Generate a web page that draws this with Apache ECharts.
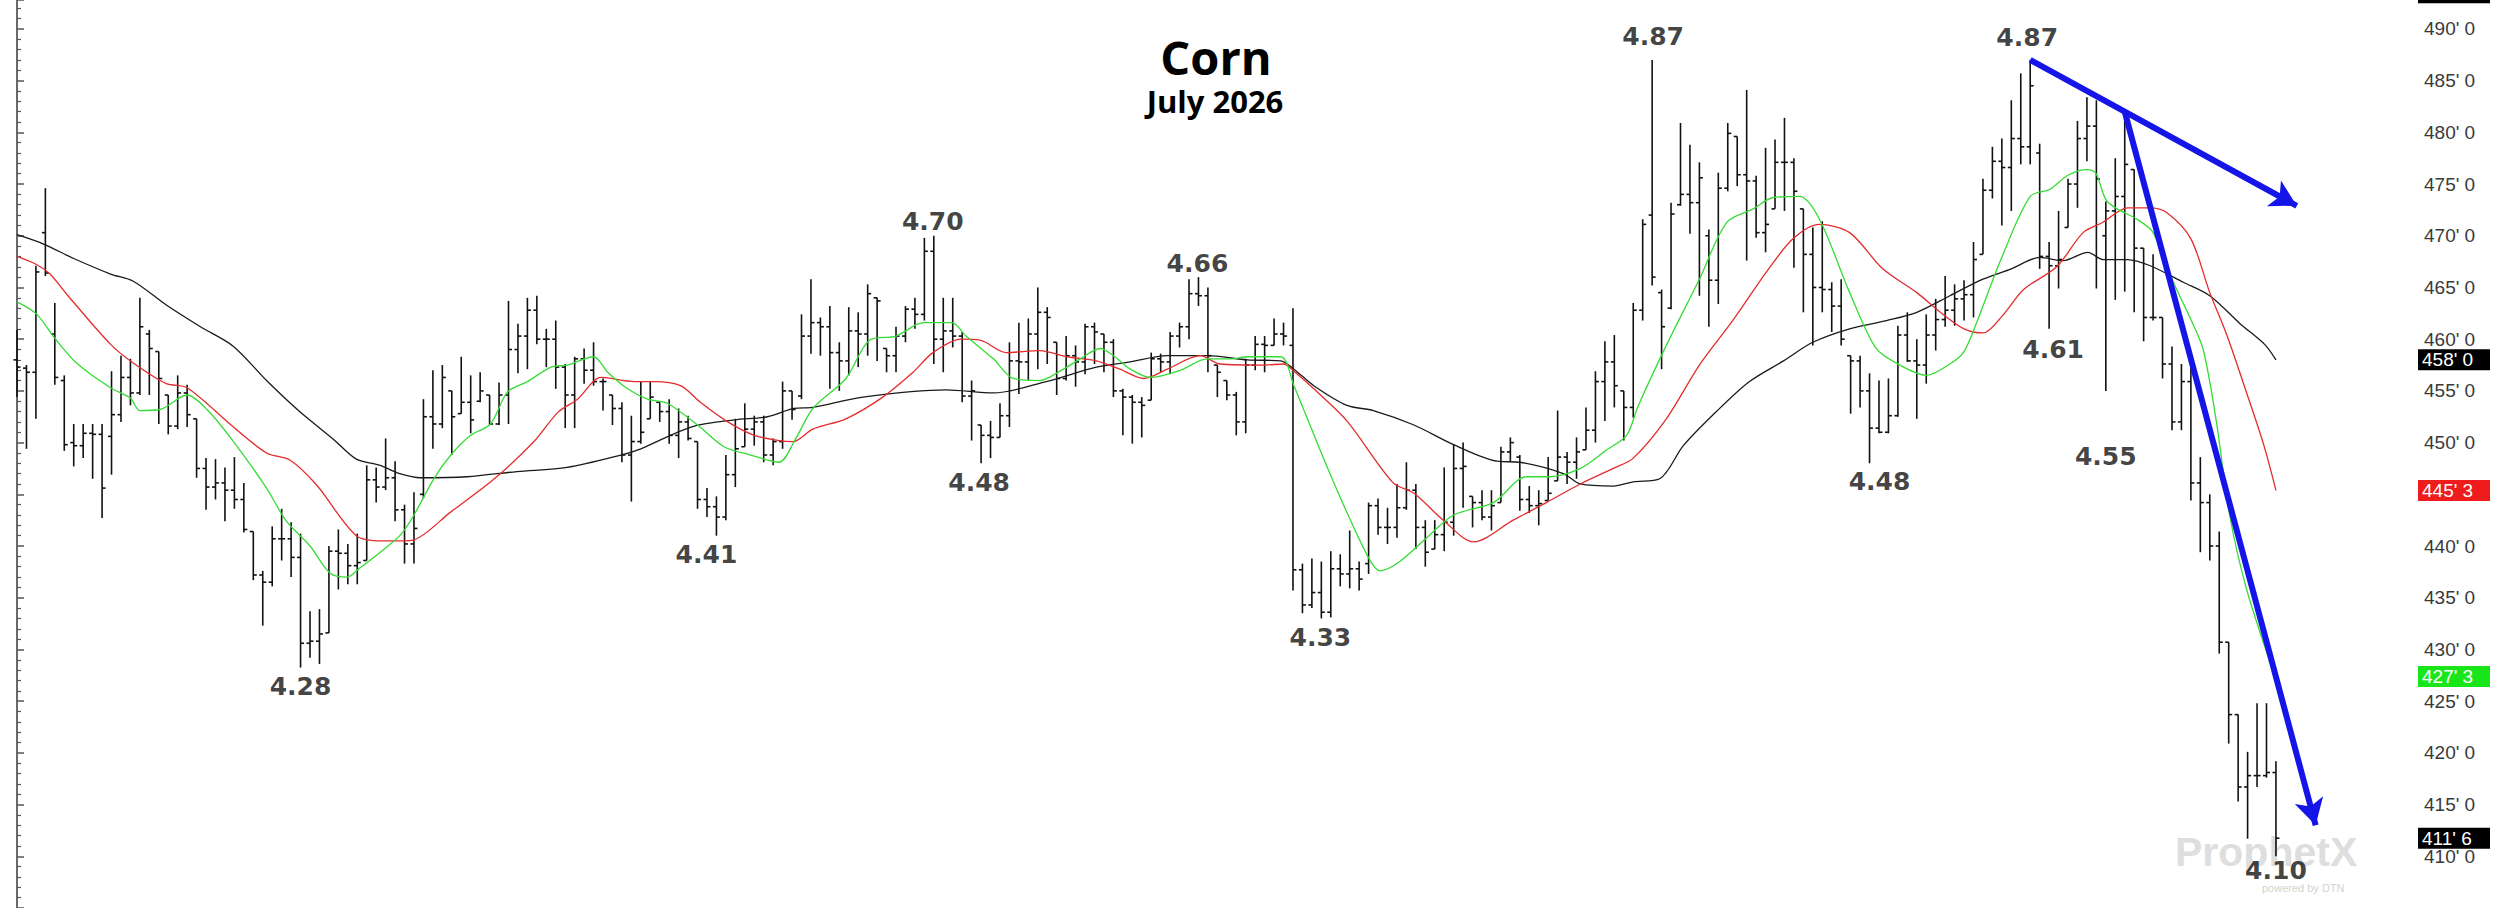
<!DOCTYPE html>
<html><head><meta charset="utf-8">
<script src="https://cdn.jsdelivr.net/npm/echarts@6/dist/echarts.min.js"></script>
<style>html,body{margin:0;padding:0;background:#fff}#c{width:2509px;height:908px}</style>
</head><body><div id="c"></div>
<script>
// Daily OHLC (cents per bushel), bar index 0..239
const opens = [
458.0,457.2,456.8,470.3,460.5,456.0,450.0,449.7,450.9,450.8,
450.6,452.7,456.3,454.8,460.5,458.8,454.6,451.6,454.8,452.3,
447.5,445.7,446.1,445.4,444.5,441.4,437.2,436.5,440.7,440.7,
438.9,430.6,430.8,431.6,439.5,439.3,438.1,438.6,446.4,445.7,
446.6,443.5,440.2,445.0,452.5,451.8,455.0,452.8,453.9,454.0,
454.6,451.8,454.6,459.0,460.3,462.8,460.0,460.0,457.3,454.6,
458.1,457.0,455.9,454.6,453.3,448.8,450.1,452.3,453.9,453.0,
450.7,452.0,450.1,444.5,443.8,442.8,446.9,449.6,451.3,452.0,
448.8,450.1,455.0,454.5,460.3,461.6,461.2,458.7,457.9,460.8,
460.5,464.0,459.1,458.4,460.3,462.9,462.4,468.5,460.0,460.8,
460.3,454.5,451.7,450.7,450.5,452.6,457.9,457.8,460.5,462.6,
459.7,456.2,458.4,457.8,461.2,460.5,459.7,455.0,454.4,453.9,
454.1,458.1,457.8,460.3,461.2,464.4,464.2,457.5,456.0,454.6,
452.0,457.5,459.5,459.4,460.5,459.4,437.7,434.3,435.5,433.6,
437.8,437.3,437.8,438.3,443.9,441.8,441.8,443.7,445.4,441.8,
439.7,441.1,442.3,447.5,444.8,444.2,442.8,444.2,449.1,448.6,
444.5,443.9,444.4,446.3,448.6,448.1,449.3,451.2,455.9,457.8,
455.0,453.4,462.8,472.0,464.5,463.0,473.0,474.0,473.2,470.0,
465.7,474.6,479.6,475.9,475.3,470.3,472.6,477.1,477.1,472.6,
468.2,465.0,464.8,463.2,458.4,457.9,455.0,451.4,451.0,452.6,
460.4,457.9,457.5,460.4,461.9,462.8,463.9,464.3,468.2,474.4,
477.2,476.6,479.4,478.6,478.0,468.0,467.1,470.8,475.0,479.4,
480.6,470.0,472.4,473.8,476.4,468.8,462.1,462.1,457.6,452.0,
455.9,446.1,444.2,440.0,430.7,423.7,416.7,417.8,417.8,418.1];
const highs = [
460.9,457.5,467.1,474.6,463.5,456.5,451.8,451.8,451.8,451.8,
456.9,458.4,458.1,464.0,460.9,458.8,454.6,456.5,455.6,452.3,
448.5,448.4,447.6,448.6,446.1,441.4,437.6,441.9,443.6,442.3,
441.2,433.7,433.9,440.0,441.6,440.2,441.2,447.8,447.6,450.4,
448.2,444.0,445.2,454.2,457.0,457.5,455.0,458.3,456.5,456.8,
454.6,455.8,463.7,461.5,464.0,464.2,461.0,461.8,457.6,458.3,
459.1,459.7,456.2,454.6,453.9,452.6,455.9,455.9,453.9,454.2,
453.3,452.6,450.1,445.6,444.8,448.8,452.3,453.8,452.6,452.6,
450.4,455.9,455.0,462.4,465.8,462.1,463.2,459.7,463.1,462.6,
465.3,464.0,459.1,461.2,463.2,464.0,469.8,470.0,464.0,464.0,
460.7,456.0,451.7,452.1,453.8,459.7,461.6,462.0,465.0,463.1,
459.7,460.3,459.4,461.5,461.6,460.5,460.0,455.2,454.6,454.4,
458.7,458.6,460.7,461.6,465.8,466.0,465.0,457.5,456.0,454.9,
458.1,460.3,460.3,462.0,461.6,463.0,438.3,438.8,438.5,439.5,
439.2,441.5,438.5,444.2,444.6,443.7,446.0,448.1,446.0,442.5,
442.5,447.6,449.8,450.0,444.8,445.4,445.4,449.6,450.5,448.8,
445.8,445.4,448.6,453.1,449.1,450.5,453.4,456.9,459.8,460.4,
455.0,463.5,471.6,487.0,464.8,473.2,480.9,478.8,477.1,470.6,
476.1,480.9,479.6,484.1,475.8,478.5,479.3,481.4,477.5,472.6,
470.8,471.4,465.5,465.8,458.4,458.4,456.7,456.0,456.2,461.3,
462.6,460.0,462.4,463.9,466.1,465.3,465.7,469.4,475.5,478.6,
479.4,483.1,485.7,487.0,478.9,469.4,472.4,475.5,481.1,483.4,
483.1,473.3,477.5,481.4,476.4,468.8,468.2,462.1,459.3,457.6,
457.6,448.6,445.0,441.4,430.7,423.7,420.1,424.8,424.8,419.2];
const lows = [
454.4,449.4,452.3,466.1,455.6,449.2,447.7,448.5,446.5,442.7,
446.9,452.0,453.6,454.6,454.6,451.8,450.8,451.3,451.5,446.6,
443.5,444.5,442.4,443.6,441.3,436.7,432.3,436.1,438.6,437.0,
428.25,429.2,428.6,431.6,435.8,436.3,436.3,438.6,444.2,445.4,
442.4,438.3,438.3,444.6,449.4,451.4,448.8,452.8,450.9,453.9,
451.7,451.7,451.8,456.7,457.1,459.5,457.3,455.2,451.4,451.4,
455.7,455.5,453.1,451.7,448.1,444.3,449.9,452.3,452.0,449.9,
448.5,450.2,443.6,442.8,441.0,442.5,445.7,449.6,449.7,448.1,
447.8,449.4,452.2,454.2,458.6,458.4,455.2,455.0,456.5,457.3,
458.4,457.9,456.8,456.8,459.7,461.0,461.8,457.6,456.8,459.2,
453.9,450.2,448.0,448.5,450.5,451.5,454.7,456.0,457.1,457.6,
454.6,456.0,455.4,456.6,457.6,456.8,454.4,450.7,449.9,450.5,
454.1,456.8,456.6,459.2,460.0,463.2,456.8,454.4,454.1,450.7,
450.9,457.0,456.8,459.4,459.4,435.7,433.5,434.0,433.0,433.1,
436.1,435.9,435.7,437.3,441.1,440.2,440.8,443.5,439.7,438.0,
439.7,439.5,441.0,443.7,441.8,442.5,441.5,444.2,448.2,443.4,
443.2,442.0,444.4,446.3,446.0,446.5,449.3,450.0,452.1,453.4,
450.2,452.4,461.8,465.2,457.1,462.9,472.9,470.2,464.2,461.2,
463.4,474.3,474.8,467.6,469.8,468.4,472.6,472.4,466.9,462.6,
459.4,462.6,460.7,459.4,452.8,453.4,448.0,450.9,450.9,452.5,
457.8,452.3,455.7,458.9,461.2,461.3,461.8,462.1,468.2,473.6,
471.0,472.4,476.9,476.9,466.8,461.0,464.9,470.8,472.7,477.2,
464.9,455.0,463.8,464.6,462.6,459.8,461.8,456.2,451.2,451.2,
444.4,439.4,438.6,429.6,420.9,415.3,411.7,416.7,417.6,410.0];
const closes = [
457.3,456.8,466.5,466.4,456.3,449.8,449.7,450.9,450.8,445.6,
452.7,456.3,454.8,461.2,459.1,456.2,451.6,454.8,452.7,447.5,
445.7,446.1,445.4,444.5,441.6,437.2,436.5,440.7,440.7,438.9,
430.6,430.8,431.5,439.5,439.3,438.1,438.4,446.4,445.7,446.6,
443.5,440.2,441.7,452.5,451.8,456.3,452.5,453.9,452.2,455.0,
451.8,454.6,459.0,460.3,462.8,460.0,460.0,457.3,454.6,458.1,
457.0,455.9,455.9,453.3,448.8,450.1,451.0,454.4,453.0,450.7,
452.0,450.4,444.5,443.8,442.8,446.9,449.4,451.3,452.0,448.8,
450.1,455.0,453.2,460.3,461.6,461.2,458.7,457.9,460.8,460.5,
464.4,463.7,458.4,460.3,462.9,462.4,468.5,460.0,460.8,460.3,
454.5,455.0,450.7,450.5,452.6,457.9,457.8,460.5,462.6,462.1,
456.2,458.4,457.8,461.2,460.7,459.7,455.0,454.4,453.9,453.6,
458.1,457.8,460.3,461.2,464.4,464.2,458.4,456.8,454.6,452.0,
457.5,459.5,459.4,460.5,460.3,437.7,434.3,435.5,433.6,437.8,
437.3,437.8,436.8,443.9,441.8,441.8,443.7,445.4,441.8,439.4,
441.1,442.3,447.5,447.7,444.2,442.8,443.9,449.1,450.0,444.5,
443.9,444.1,445.1,448.6,448.1,449.1,451.2,455.9,457.8,455.5,
453.4,462.8,471.1,466.0,461.2,472.1,474.0,473.2,475.6,465.7,
474.6,479.9,475.9,475.3,470.3,471.1,477.1,477.1,474.3,468.2,
465.0,464.8,463.2,460.0,457.9,455.0,451.4,451.0,452.6,460.4,
457.9,457.5,460.4,461.9,462.8,463.9,464.3,467.7,474.4,477.2,
476.6,479.4,478.6,484.5,468.0,467.1,467.7,475.0,479.4,480.6,
475.5,472.4,473.8,476.9,468.8,462.1,462.1,457.6,452.0,455.9,
446.1,444.2,440.0,430.7,423.7,416.7,417.8,417.8,418.1,411.75];

// Moving averages: [bar index, value]
const maShort = [[0,463.6],[2.1,462.4],[3.9,460.2],[6.3,457.7],[9.9,455.3],[12,454.3],[13,453.1],[15.1,453.2],[18,454.6],[20.1,453.2],[22.9,450.1],[26.4,445.6],[28.5,442.4],[31,440.0],[33.1,437.4],[34.9,437.0],[36.3,437.9],[38.7,439.6],[40.6,441.1],[42,443.0],[44.1,446.5],[45.9,448.8],[48,450.7],[50.1,451.8],[51.9,454.9],[54,455.9],[56.5,457.3],[58.2,457.5],[61,458.3],[62.5,456.8],[64.6,455.2],[66.7,454.2],[68.8,453.8],[72,451.7],[74.8,449.6],[77.6,448.8],[80.6,448.1],[82.4,450.4],[84.2,453.3],[87.7,456.2],[90.2,459.9],[93,460.3],[95.9,461.6],[98.9,461.6],[100.4,460.3],[103.3,458.1],[105.4,456.2],[108.2,456.0],[110.7,457.1],[112.5,458.1],[114.6,459.1],[116,458.4],[117.8,457.1],[119.9,456.3],[123.1,457.0],[125.9,458.1],[128.4,458.1],[130.2,458.3],[133.7,458.3],[135.1,455.5],[139,446.8],[142.8,439.2],[144.2,437.6],[146.3,438.5],[149.5,441.1],[152,443.0],[156.2,444.2],[159.7,446.7],[162.2,446.7],[165.4,447.5],[168.2,449.3],[170.3,450.7],[171.5,453.5],[174.5,459.4],[178,465.8],[180.9,471.3],[183.7,472.6],[185.8,473.7],[188.6,473.8],[190.7,471.6],[193.9,464.5],[196.7,459.1],[199.2,457.5],[202,456.5],[204.5,457.6],[206,458.8],[207.5,462.0],[209.9,467.7],[213,473.8],[215.1,474.5],[216.9,475.8],[218.8,476.4],[219.9,476.1],[221,473.5],[222.2,472.6],[224.3,471.6],[226,470.3],[228.2,465.4],[229.9,462.1],[231.3,459.0],[232.7,452.0],[234.1,443.0],[235.9,435.8],[238.7,427.9],[239,427.375]];
const maMid = [[0,468.0],[2.1,467.2],[3.5,466.3],[5.3,464.3],[9.9,459.5],[12.3,457.7],[15.8,455.7],[18,455.3],[22.9,451.5],[26.4,449.0],[28.9,448.3],[31.7,445.9],[35.9,441.0],[38.7,440.5],[40.6,440.5],[42,440.6],[45.9,443.3],[50.5,446.5],[54.7,450.1],[57.2,452.9],[59.3,454.2],[61.8,456.3],[65.3,455.9],[67.4,455.9],[70.2,455.5],[72.3,453.9],[75.2,452.0],[78,450.7],[80.6,450.2],[82.1,450.1],[84.2,451.3],[87.7,452.3],[91.6,454.4],[94.8,456.8],[96.9,458.7],[99.9,460.0],[101.9,459.9],[104.7,458.7],[108.2,458.9],[111.1,458.3],[114.2,457.9],[116.7,457.1],[119.2,456.2],[121.7,457.1],[125.2,458.4],[127.3,457.6],[131.9,457.5],[134,457.6],[135.1,456.9],[137.2,455.2],[140.7,452.1],[145.6,446.1],[147.8,445.1],[150.9,442.5],[154.1,440.4],[158.3,442.5],[161.8,444.2],[165.4,446.0],[168.9,447.5],[171,448.5],[174.5,452.3],[178,457.5],[181.6,461.9],[185.1,466.5],[187.9,469.7],[190.7,471.1],[193.9,470.3],[197.4,466.8],[201,464.5],[203.5,462.6],[206,461.0],[208,460.6],[210,462.2],[212.3,464.8],[215.8,467.0],[218.6,470.3],[220.7,471.3],[223.3,472.7],[225.7,472.7],[227.5,472.2],[230,469.7],[232,464.5],[233.8,460.4],[235.9,454.8],[237.7,449.8],[239,445.375]];
const maLong = [[0,470.1],[2.8,469.2],[6,467.8],[9.9,466.3],[12.3,465.6],[15.8,463.3],[19.4,461.2],[22.9,459.3],[26.4,456.0],[29.9,453.0],[33.5,450.3],[35.9,448.4],[38.4,447.8],[40.5,447.0],[42.7,446.6],[47.6,446.7],[52.9,447.2],[58.2,447.6],[63.9,448.8],[66,449.4],[71.3,451.5],[75.9,452.2],[79.4,452.5],[82.2,453.3],[84.2,453.4],[89.5,454.4],[98.3,455.1],[103.3,454.8],[108.9,455.9],[114.2,457.3],[117.8,457.8],[121.7,458.4],[125.9,458.4],[130.2,458.0],[133.7,457.9],[135.1,457.1],[137.2,455.5],[140.7,453.6],[143.5,453.1],[147.8,451.7],[152,449.8],[156.6,448.2],[159,448.1],[163.6,447.0],[165.4,446.0],[168.9,445.8],[171,446.2],[173.8,446.5],[176.3,449.7],[179.8,453.0],[183.3,455.9],[186.9,457.9],[190,459.7],[193.9,461.0],[197.8,461.8],[201,462.6],[204.5,464.2],[208,465.8],[211,466.8],[214,467.9],[216.5,467.6],[219.1,468.4],[220.7,467.7],[223.3,467.7],[225.7,467.1],[229.2,465.5],[232,464.2],[235.2,461.5],[237.8,459.5],[239,458.0]];

// Swing high / low annotations: [bar index, price, text]
const pivots = [[30,428.25,'4.28'],[74,441.0,'4.41'],[97,470.0,'4.70'],[102,448.0,'4.48'],[125,466.0,'4.66'],[138,433.0,'4.33'],[173,487.0,'4.87'],[196,448.0,'4.48'],[213,487.0,'4.87'],[215,461.0,'4.61'],[221,455.0,'4.55'],[239,410.0,'4.10']];
// Trend arrows: [[start index, start price],[end index, end price]]
const arrows = [[[213,487.0],[241.2,472.9]],[[223,482.0],[243.2,413.0]]];
// Last-value boxes on the price axis: [value, text, colour] (top box is cut off, no readable text)
const lastValues = [[493.5,'','#000000'],[458.0,"458' 0",'#000000'],[445.375,"445' 3",'#ee1c1c'],[427.375,"427' 3",'#19e619'],[411.75,"411' 6",'#000000']];

// label offsets in px (style only)
const pivotOffsets = [[0,19],[-10,19],[-1,-14],[-2,19],[-1,-14],[-1,19],[1,-23],[10,18],[-3,-22],[4,21],[0,66],[0,14]];

const chart = echarts.init(document.getElementById('c'), null, {renderer:'svg', width:2509, height:908});
const bars = opens.map((o,i)=>[i,o,highs[i],lows[i],closes[i]]);

function renderOHLC(params, api){
  const i = api.value(0);
  const o = api.coord([i, api.value(1)]);
  const h = api.coord([i, api.value(2)]);
  const l = api.coord([i, api.value(3)]);
  const c = api.coord([i, api.value(4)]);
  const x = h[0], t = 3.5;
  const st = {stroke:'#111', lineWidth:1.6};
  return {type:'group', children:[
    {type:'line', shape:{x1:x,y1:h[1],x2:x,y2:l[1]}, style:st},
    {type:'line', shape:{x1:x-t,y1:o[1],x2:x,y2:o[1]}, style:st},
    {type:'line', shape:{x1:x,y1:c[1],x2:x+t,y2:c[1]}, style:st}
  ]};
}

const option = {
  animation:false,
  backgroundColor:'#ffffff',
  grid:{left:0,right:96,top:0,bottom:-2.875,containLabel:false},
  xAxis:{type:'value',min:-1.8,max:253.5,show:false},
  yAxis:{type:'value',position:'right',min:405,max:492.795,interval:5,
    axisLine:{show:true,lineStyle:{color:'#6a6a6a',width:2}},
    axisTick:{show:true,length:7,lineStyle:{color:'#555',width:1.5}},
    minorTick:{show:true,splitNumber:5,length:4,lineStyle:{color:'#555',width:1.2}},
    splitLine:{show:false},
    axisLabel:{margin:11,color:'#3a3a3a',fontSize:19,fontFamily:'"Liberation Sans", Arial, sans-serif',
      showMinLabel:false, showMaxLabel:false,
      formatter:v=>(Math.abs(v%5)>1e-6||v<=405)?'':v+"' 0"}},
  series:[
    {type:'custom', renderItem:renderOHLC, data:bars, encode:{x:0,y:[1,2,3,4]}, clip:false, z:2, silent:true},
    {type:'line', data:maLong, smooth:0.3, symbol:'none', lineStyle:{color:'#1a1a1a',width:1.3}, z:3, silent:true,
      markLine:{silent:true, symbol:['none','arrow'], symbolSize:[22,26], label:{show:false},
        lineStyle:{color:'#1515e8',width:6,type:'solid'}, emphasis:{disabled:true},
        data:arrows.map(a=>[{coord:a[0]},{coord:a[1]}])}},
    {type:'line', data:maMid, smooth:0.3, symbol:'none', lineStyle:{color:'#e52b2b',width:1.3}, z:3, silent:true},
    {type:'line', data:maShort, smooth:0.3, symbol:'none', lineStyle:{color:'#35dc35',width:1.3}, z:3, silent:true},
    {type:'scatter', symbolSize:1, itemStyle:{color:'rgba(0,0,0,0)'}, z:6, silent:true,
      label:{show:true, position:'inside', fontFamily:'"DejaVu Sans", Verdana, sans-serif', fontWeight:'bold', fontSize:25, color:'#111'},
      data:pivots.map((p,k)=>({value:[p[0],p[1]], label:{formatter:p[2], offset:pivotOffsets[k]}}))}
  ]
};
chart.setOption(option);

const graphics = [
  {type:'text', x:1216, y:57, z:20, style:{text:'Corn', font:'bold 47px "Open Sans", sans-serif', fill:'#000', align:'center', verticalAlign:'middle'}},
  {type:'text', x:1215, y:101, z:20, style:{text:'July 2026', font:'bold 31px "Open Sans", sans-serif', fill:'#000', align:'center', verticalAlign:'middle'}},
  {type:'text', x:2175, y:852, z:0, style:{text:'ProphetX', font:'bold 41px "Liberation Sans", Arial, sans-serif', fill:'#dedede', align:'left', verticalAlign:'middle'}},
  {type:'text', x:2262, y:888, z:0, style:{text:'powered by DTN', font:'11px "Liberation Sans", Arial, sans-serif', fill:'#d2d2d2', align:'left', verticalAlign:'middle'}}
];
lastValues.forEach(([v,t,bg])=>{
  const y = chart.convertToPixel({yAxisIndex:0}, v);
  graphics.push({type:'rect', x:2418, y:y-10.5, z:30, shape:{x:0,y:0,width:72,height:21}, style:{fill:bg}});
  if (t) graphics.push({type:'text', x:2422, y:y, z:31, style:{text:t, font:'19px "Liberation Sans", Arial, sans-serif', fill:'#ffffff', align:'left', verticalAlign:'middle'}});
});
chart.setOption({graphic:graphics});
</script>
</body></html>
